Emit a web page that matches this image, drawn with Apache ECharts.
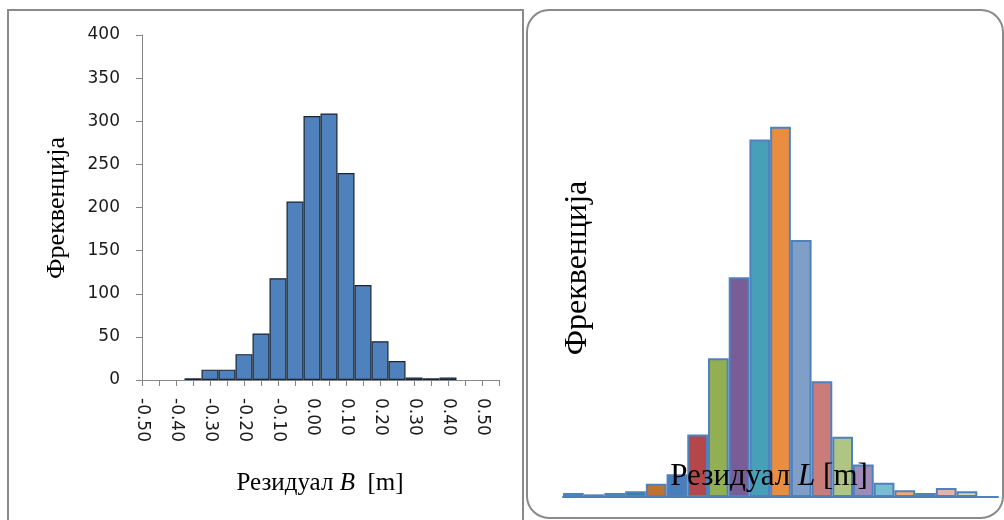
<!DOCTYPE html>
<html><head><meta charset="utf-8">
<script src="https://cdn.jsdelivr.net/npm/echarts@6/dist/echarts.min.js"></script>
<style>html,body{margin:0;padding:0;background:#fff}#c{width:1004px;height:520px}</style>
</head><body><div id="c"></div>
<script>
// Left histogram (Резидуал B)
const binsB = ['-0.50','-0.45','-0.40','-0.35','-0.30','-0.25','-0.20','-0.15','-0.10','-0.05','0.00','0.05','0.10','0.15','0.20','0.25','0.30','0.35','0.40','0.45','0.50','0.55'];
const freqB = [0,0,0,2,12,12,30,54,118,207,306,309,240,110,45,22,3,2,3,0,0,0];
const yTicksB = [0,50,100,150,200,250,300,350,400];

// Right histogram (Резидуал L)
const binsL = ['-0.50','-0.45','-0.40','-0.35','-0.30','-0.25','-0.20','-0.15','-0.10','-0.05','0.00','0.05','0.10','0.15','0.20','0.25','0.30','0.35','0.40','0.45','0.50'];
const freqL = [3.5,2.3,3.5,4.9,11.5,19.6,54,120,190,309,320,222,100,52,28,12.4,5.8,3.5,7.8,4.9,0];
const colorsL = ['#A0403E','#4A7EBB','#6E5A92','#31859C','#C0722F','#4A7EBB','#B3474A','#93AF53','#785D96','#47A0B8','#E98D40','#7F9EC8','#CA7C7A','#AFC584','#9E8BBA','#7ABCD1','#F8A970','#9DB3D6','#DDB3B3','#CDDCB4','#B3A2C7'];

const chart = echarts.init(document.getElementById('c'));
const tickFont = {fontFamily:'DejaVu Sans', fontSize:17, color:'#1a1a1a'};
chart.setOption({
  animation:false,
  grid:[
    {left:142, top:35, width:357, height:345},
    {left:563, top:92, width:435, height:405}
  ],
  xAxis:[
    {type:'category', gridIndex:0, data:binsB, boundaryGap:false,
     axisLine:{lineStyle:{color:'#868686', width:1}},
     axisTick:{interval:0, length:6, lineStyle:{color:'#868686'}},
     axisLabel:Object.assign({interval:1, rotate:-90, margin:18}, tickFont),
     splitLine:{show:false}},
    {type:'category', gridIndex:1, data:binsL, boundaryGap:true,
     axisLine:{lineStyle:{color:'#4A7EBB', width:2}},
     axisTick:{show:false}, axisLabel:{show:false}, splitLine:{show:false}}
  ],
  yAxis:[
    {type:'value', gridIndex:0, min:yTicksB[0], max:yTicksB[yTicksB.length-1], interval:50,
     axisLine:{show:true, lineStyle:{color:'#868686', width:1}},
     axisTick:{show:true, length:6, lineStyle:{color:'#868686'}},
     axisLabel:Object.assign({margin:22}, tickFont),
     splitLine:{show:false}},
    {type:'value', gridIndex:1, min:0, max:350, show:false, splitLine:{show:false}}
  ],
  series:[
    {type:'bar', xAxisIndex:0, yAxisIndex:0, barWidth:'100%',
     data:freqB.map(v => v === 0 ? {value:v, itemStyle:{borderWidth:0}} : v),
     itemStyle:{color:'#4F81BD', borderColor:'#1b2433', borderWidth:1.2}},
    {type:'bar', xAxisIndex:1, yAxisIndex:1, barWidth:'100%',
     data:freqL.map((v,i)=>({value:v, itemStyle:{color:colorsL[i]}})),
     itemStyle:{borderColor:'#4F81BD', borderWidth:2}}
  ],
  graphic:[
    {type:'rect', z:-1, shape:{x:8, y:10, width:515, height:530}, style:{fill:'none', stroke:'#8a8a8a', lineWidth:2}},
    {type:'rect', z:-1, shape:{x:527, y:10, width:476, height:508, r:22}, style:{fill:'none', stroke:'#8a8a8a', lineWidth:2}},
    {type:'text', z:100, x:57, y:208, rotation:Math.PI/2,
     style:{text:'Фреквенција', font:'26px "Liberation Serif"', fill:'#000', align:'center', verticalAlign:'middle'}},
    {type:'text', z:100, x:320, y:483,
     style:{text:'{a|Резидуал }{b|B}{a|  [m]}', align:'center', verticalAlign:'middle',
       rich:{a:{fontFamily:'Liberation Serif', fontSize:25, color:'#000'}, b:{fontFamily:'Liberation Serif', fontStyle:'italic', fontSize:25, color:'#000'}}}},
    {type:'text', z:100, x:578, y:268, rotation:Math.PI/2,
     style:{text:'Фреквенција', font:'32px "Liberation Serif"', fill:'#000', align:'center', verticalAlign:'middle'}},
    {type:'text', z:100, x:769, y:477,
     style:{text:'{a|Резидуал }{b|L}{a| [m]}', align:'center', verticalAlign:'middle',
       rich:{a:{fontFamily:'Liberation Serif', fontSize:31, color:'#000'}, b:{fontFamily:'Liberation Serif', fontStyle:'italic', fontSize:31, color:'#000'}}}}
  ]
});
</script></body></html>
